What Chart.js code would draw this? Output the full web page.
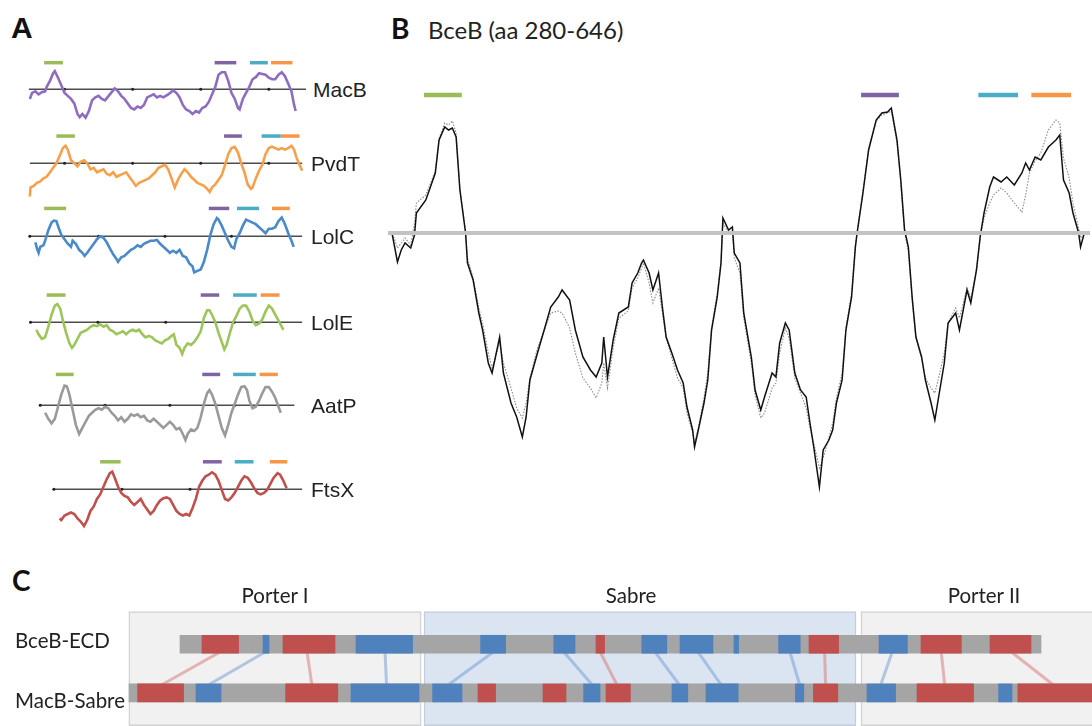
<!DOCTYPE html>
<html>
<head>
<meta charset="utf-8">
<script src="https://cdn.jsdelivr.net/npm/chart.js@4.4.1/dist/chart.umd.min.js"></script>
<style>
  html, body { margin: 0; padding: 0; background: #ffffff; }
  body { width: 1092px; height: 726px; position: relative; overflow: hidden; }
  canvas { position: absolute; }
  .t { position: absolute; white-space: nowrap; line-height: 1; color: #111; }
  .letterA { font-family: "Liberation Sans", Arial, sans-serif; font-weight: bold; font-size: 30px; }
  .letter { font-family: Lato, "Open Sans", sans-serif; font-weight: bold; font-size: 28px; }
  .title { font-family: Lato, "Open Sans", sans-serif; font-size: 24px; color: #222; }
  .plbl { font-family: "Liberation Sans", Arial, sans-serif; font-size: 21px; color: #222; }
  .clbl { font-family: Lato, "Open Sans", sans-serif; font-size: 20.5px; color: #222; }
</style>
</head>
<body>
<div class="t letterA" style="left:11px;top:13px;">A</div>
<div class="t letter" style="left:391px;top:14px;">B</div>
<div class="t title" style="left:428px;top:18px;">BceB (aa 280-646)</div>
<div class="t letter" style="left:12px;top:566px;">C</div>

<script>
// ---------------- DATA ----------------
// Panel A: hydropathy profiles [position, value]
const macbProfile = [[6,-1.07],[8.3,-0.4],[11.7,-0.23],[15,-0.57],[18.3,-0.33],[21.7,-0.23],[23.3,0.27],[26.7,0.93],[30,1.77],[31.7,2.0],[35,1.27],[38.3,0.43],[41.7,-0.4],[45,-0.73],[48.3,-1.07],[51.7,-1.57],[55,-2.73],[57.3,-3.07],[60,-2.73],[63.3,-3.13],[66.7,-2.4],[70,-1.23],[73.3,-0.9],[76.7,-0.73],[80,-1.07],[83.3,-1.23],[88.3,-0.57],[93.3,0.1],[96.7,-0.23],[100,-0.73],[103.3,-1.07],[106.7,-1.57],[110,-2.07],[113.3,-2.23],[116.7,-1.9],[120,-2.07],[123.3,-1.73],[126.7,-0.9],[130,-0.73],[133.3,-0.57],[136.7,-0.9],[140,-0.73],[143.3,-0.9],[148.3,-0.57],[153.3,-0.13],[156.7,-0.4],[160,-0.9],[163.3,-1.73],[166.7,-2.23],[170,-2.4],[173.3,-2.73],[176.7,-2.4],[180,-2.57],[183.3,-2.07],[186.7,-1.9],[190,-1.4],[193.3,-0.57],[196.7,0.27],[200,1.6],[203.3,1.87],[206.7,1.87],[210,0.93],[213.3,-0.4],[216.7,-1.07],[220,-2.07],[221.7,-2.23],[225,-1.07],[228.3,-0.4],[231.7,0.27],[235,1.1],[238.3,1.33],[241.7,1.77],[245,1.67],[248.3,1.6],[251.7,1.27],[255,1.1],[258.3,1.1],[261.7,1.6],[265,1.87],[268.3,1.43],[271.7,0.6],[275,-0.23],[277.7,-1.73],[279.3,-2.4]];
const pvdtProfile = [[6,-3.67],[6.7,-2.67],[10,-2.5],[13.3,-2.17],[16.7,-2.0],[20,-1.67],[23.3,-1.5],[26.7,-1.0],[30,-0.5],[33.3,0],[36.7,0.83],[40,1.67],[42.7,1.93],[45,1.5],[48.3,0.33],[51.7,0],[55,-0.33],[58.3,0.17],[61.7,0.33],[65,0],[68.3,-0.67],[71.7,-0.5],[75,-1.0],[78.3,-0.83],[81.7,-0.67],[85,-1.17],[88.3,-1.33],[91.7,-1.0],[95,-1.5],[98.3,-1.33],[101.7,-1.17],[105,-1.0],[108.3,-1.5],[111.7,-2.0],[115,-2.5],[118.3,-2.17],[121.7,-2.0],[125,-1.83],[128.3,-1.67],[131.7,-1.33],[135,-1.0],[138.3,-0.5],[141.7,-0.33],[145,-0.17],[148.3,-0.67],[151.7,-1.67],[155,-2.67],[158.3,-1.83],[161.7,-1.17],[165,-0.67],[168.3,-1.0],[171.7,-1.5],[175,-1.83],[178.3,-2.17],[181.7,-2.33],[185,-2.5],[188.3,-2.83],[191,-3.17],[193.3,-2.67],[196.7,-2.33],[200,-1.83],[203.3,-1.33],[206.7,-0.17],[210,1.0],[213.3,1.67],[216.7,1.8],[220,1.17],[223.3,0],[226.7,-1.0],[230,-2.33],[233.3,-2.83],[235,-2.67],[238.3,-1.67],[241.7,-0.83],[245,-0.17],[248.3,1.0],[251.7,1.67],[255,1.83],[258.3,1.67],[261.7,1.5],[265,1.67],[268.3,1.5],[271.7,1.67],[275,1.93],[277.7,1.5],[280,0.67],[283.3,-0.17],[286,-0.83]];
const lolcProfile = [[11.7,-0.67],[13.3,-1.33],[15,-1.83],[16.7,-1.17],[20,-1.0],[21.7,-0.5],[25,0.67],[28.3,1.5],[30.7,1.73],[33.3,1.67],[36,0.83],[38.3,0.17],[41.7,-0.33],[45,-0.83],[48.3,-1.17],[50,-0.5],[53.3,-0.83],[56.7,-1.5],[60,-1.83],[62.3,-2.17],[65,-1.83],[68.3,-1.33],[71.7,-0.83],[75,-0.33],[78.3,0],[81.7,-0.17],[85,-0.67],[88.3,-1.33],[91.7,-2.0],[95,-2.5],[96.7,-2.83],[100,-2.33],[103.3,-2.17],[106.7,-1.83],[110,-1.5],[113.3,-1.33],[116.7,-1.0],[120,-1.17],[123.3,-0.83],[126.7,-0.67],[130,-0.5],[133.3,-0.5],[136.7,-0.4],[140,-0.83],[143.3,-1.17],[146.7,-1.5],[150,-1.83],[153.3,-1.6],[156.7,-1.83],[160,-1.5],[163.3,-2.17],[166.7,-2.33],[170,-3.0],[173.3,-3.33],[175,-4.0],[178.3,-3.83],[181.7,-3.67],[185,-2.83],[188.3,-1.5],[191.7,0.17],[195,1.33],[198.3,2.0],[200,1.83],[203.3,1.17],[206.7,0.33],[210,-0.5],[213.3,-1.17],[216,-1.33],[218.3,-0.33],[221.7,0.33],[225,1.17],[228.3,1.83],[231.7,1.67],[235,1.5],[238.3,1.33],[241.7,1.0],[245,0.67],[248.3,0.33],[251.7,0.83],[255,0.83],[258.3,1.0],[261.7,1.67],[265,2.07],[268.3,1.33],[271.7,0.33],[275,-0.5],[277.3,-1.17]];
const loleProfile = [[12.7,-0.83],[15,-1.33],[18.3,-1.83],[21.7,-1.67],[25,-0.5],[28.3,0.83],[31.7,1.83],[34.3,2.0],[37.3,1.5],[40,0.17],[43.3,-1.17],[46.7,-2.33],[49.3,-2.83],[51.7,-2.5],[55,-1.83],[58.3,-1.17],[61.7,-1.0],[65,-0.83],[68.3,-0.5],[71.7,-0.33],[75,-0.43],[78.3,-0.23],[81.7,-0.5],[85,-0.33],[88.3,-0.83],[91.7,-1.0],[95,-1.33],[98.3,-1.17],[101.7,-1.0],[105,-1.33],[108.3,-1.0],[111.7,-0.83],[115,-1.0],[118.3,-0.83],[121.7,-1.33],[125,-1.67],[128.3,-1.5],[131.7,-1.67],[135,-2.0],[138.3,-2.17],[141.7,-2.33],[145,-2.0],[148.3,-1.83],[151.7,-1.5],[154,-1.33],[156.7,-2.5],[160,-2.83],[162.7,-3.5],[165,-2.83],[168.3,-2.33],[171.7,-2.5],[175,-2.17],[178.3,-1.67],[181.7,-1.0],[185,0.5],[188.3,1.33],[190.7,1.33],[193.3,0.83],[196.7,0],[200,-1.17],[203.3,-2.17],[206,-3.0],[208.3,-2.5],[211.7,-1.17],[215,0],[218.3,0.67],[221.7,1.5],[225,1.83],[228.3,1.83],[231.7,1.17],[235,0.17],[238.3,-0.33],[241.7,-0.17],[245,0.33],[248.3,1.17],[251.7,1.83],[255,1.5],[258.3,0.83],[261.7,0.17],[265,-0.5],[266.7,-0.83]];
const aatpProfile = [[21.7,-0.83],[25,-1.5],[28.3,-2.0],[31.7,-1.5],[35,-0.17],[38.3,1.17],[41.7,2.17],[44,2.1],[46.7,1.17],[50,-0.5],[53.3,-2.17],[56.7,-3.17],[60,-2.5],[63.3,-1.83],[66.7,-1.17],[70,-0.83],[73.3,-0.5],[76.7,-0.33],[80,-0.5],[83.3,-0.17],[86.7,-0.33],[90,-0.83],[93.3,-1.17],[96.7,-1.67],[100,-1.33],[103.3,-1.83],[106.7,-1.5],[110,-1.0],[113.3,-1.17],[116.7,-1.0],[120,-1.33],[123.3,-1.17],[126.7,-1.67],[130,-1.83],[133.3,-1.5],[136.7,-1.83],[140,-2.17],[143.3,-2.5],[146.7,-2.17],[150,-1.83],[153.3,-2.17],[156.7,-2.67],[160,-2.5],[163.3,-3.17],[166,-3.83],[168.3,-3.17],[171.7,-2.67],[175,-2.83],[178.3,-2.5],[181.7,-1.33],[185,0.17],[188.3,1.33],[190.7,1.67],[193.3,1.17],[196.7,0.17],[200,-1.17],[203.3,-2.5],[206.7,-3.33],[210,-2.17],[213.3,-0.83],[216.7,0.17],[220,1.17],[223.3,2.0],[226.7,2.1],[229.3,1.67],[231.7,0.5],[235,-0.33],[238.3,-0.17],[241.7,0.5],[245,1.33],[248.3,2.0],[251.7,2.0],[255,1.5],[258.3,0.83],[261.7,-0.17],[264,-0.83]];
const ftsxProfile = [[36.7,-3.23],[38.3,-3.4],[41.7,-2.9],[45,-2.73],[48.3,-2.57],[51.7,-2.73],[55,-3.23],[58.3,-3.57],[61.7,-4.07],[65,-3.4],[68.3,-2.4],[71.7,-1.9],[75,-1.07],[78.3,-0.57],[81.7,0.27],[85,1.1],[88.3,1.77],[90.7,1.93],[93.3,1.27],[96.7,0.27],[100,-0.4],[103.3,-0.73],[106.7,-0.9],[110,-1.4],[113.3,-1.73],[116.7,-1.4],[120,-1.07],[123.3,-1.73],[126.7,-2.23],[130,-2.73],[133.3,-2.4],[136.7,-1.73],[140,-1.23],[143.3,-1.0],[146.7,-0.9],[150,-1.07],[153.3,-1.73],[156.7,-2.4],[160,-2.73],[163.3,-2.9],[166.7,-2.73],[170,-2.9],[173.3,-2.07],[176.7,-1.07],[180,0.27],[183.3,0.93],[186.7,1.43],[190,1.6],[193.3,1.87],[196.7,1.6],[200,0.93],[203.3,-0.07],[206.7,-1.07],[210,-1.23],[213.3,-0.9],[216.7,-0.4],[220,0.27],[223.3,0.93],[226.7,1.43],[230,1.27],[233.3,0.77],[236.7,0.1],[240,-0.4],[243.3,-0.57],[246.7,-0.4],[250,-0.07],[253.3,0.6],[256.7,1.27],[260.7,1.77],[263.3,1.6],[266.7,0.93],[270,0.1]];

// Panel A: conserved motif spans (green, purple, cyan, orange) and axis ticks
const macbMotifs = [[20.7,40],[196,218.3],[232.3,250.7],[254,276]];
const pvdtMotifs = [[33.3,52.3],[205.7,224],[244.3,264],[264,283.3]];
const lolcMotifs = [[20.7,43.3],[190,211],[219,241.7],[255,273.3]];
const loleMotifs = [[23.3,42.7],[181.7,200.7],[215,239.3],[243.3,262.7]];
const aatpMotifs = [[32.7,51],[183.3,201.7],[215,238.3],[242.3,261]];
const ftsxMotifs = [[78.3,99.3],[184,203.3],[216.7,236],[252.7,270.7]];
const macbTicks = [41.7,111.7,181.7,251.7];
const pvdtTicks = [41.7,111.7,181.7,251.7];
const lolcTicks = [6,76.7,145,213.3];
const loleTicks = [6.7,76,145.7,216];
const aatpTicks = [16.7,83.3,150,216.7];
const ftsxTicks = [30.7,100.7,170.7];
const proteinNames = ['MacB','PvdT','LolC','LolE','AatP','FtsX'];

// Panel B: BceB residues 280-646, [residue, hydropathy]
const bcebSolid = [[280,0.01],[283,-0.29],[285,-0.17],[287,-0.10],[290,-0.15],[292,-0.02],[293,0.20],[298,0.33],[303,0.60],[305,0.93],[308,1.06],[310,1.03],[312,1.05],[314,0.96],[316,0.43],[319,0.00],[320,-0.30],[323,-0.47],[326,-0.80],[328,-0.97],[331,-1.30],[333,-1.40],[337,-1.04],[339,-1.40],[343,-1.70],[346,-1.84],[349,-2.04],[351,-1.84],[353,-1.47],[357,-1.20],[361,-0.94],[364,-0.74],[368,-0.64],[370,-0.57],[374,-0.67],[377,-0.97],[381,-1.24],[385,-1.37],[388,-1.44],[391,-1.30],[392,-1.04],[394,-1.44],[397,-1.07],[400,-0.80],[405,-0.74],[407,-0.50],[410,-0.40],[412,-0.30],[413,-0.27],[416,-0.40],[418,-0.57],[421,-0.40],[423,-0.74],[425,-1.04],[428,-1.20],[431,-1.37],[434,-1.50],[436,-1.74],[439,-1.97],[440,-2.14],[442,-1.97],[445,-1.70],[447,-1.47],[449,-0.97],[452,-0.64],[454,-0.30],[455,0.15],[458,0.03],[460,0.06],[461,-0.20],[464,-0.30],[466,-0.80],[470,-1.24],[472,-1.57],[475,-1.77],[477,-1.64],[481,-1.40],[483,-1.44],[485,-1.10],[488,-0.90],[490,-0.97],[493,-1.40],[496,-1.57],[499,-1.64],[501,-1.90],[503,-2.14],[506,-2.54],[508,-2.17],[511,-2.07],[513,-1.97],[515,-1.70],[518,-1.47],[520,-0.97],[523,-0.64],[525,-0.14],[526,0.01],[529,0.40],[532,0.83],[536,1.13],[539,1.20],[542,1.21],[544,1.25],[547,0.93],[549,0.53],[551,0.03],[553,-0.14],[555,-0.64],[557,-1.04],[560,-1.24],[562,-1.47],[565,-1.70],[567,-1.87],[569,-1.64],[572,-1.30],[574,-0.90],[578,-0.80],[580,-0.97],[584,-0.57],[586,-0.70],[589,-0.37],[591,-0.03],[593,0.20],[596,0.46],[598,0.56],[602,0.51],[605,0.56],[609,0.48],[613,0.60],[615,0.70],[617,0.63],[620,0.76],[623,0.73],[627,0.86],[631,0.93],[633,0.98],[635,0.53],[638,0.40],[640,0.20],[643,0.00],[644,-0.14],[646,0.00]];
const bcebDotted = [[280,0.02],[283,-0.15],[285,-0.10],[287,-0.05],[290,-0.12],[292,0.10],[293,0.30],[298,0.38],[303,0.62],[305,0.95],[308,1.10],[310,1.08],[312,1.12],[314,1.00],[316,0.45],[319,0.02],[320,-0.25],[323,-0.45],[326,-0.75],[328,-0.90],[331,-1.20],[333,-1.35],[337,-1.10],[339,-1.30],[343,-1.55],[346,-1.75],[349,-1.85],[351,-1.70],[353,-1.45],[357,-1.15],[361,-0.95],[364,-0.80],[368,-0.78],[370,-0.80],[374,-0.95],[377,-1.20],[381,-1.45],[385,-1.55],[388,-1.65],[391,-1.50],[392,-1.30],[394,-1.55],[397,-1.15],[400,-0.85],[405,-0.78],[407,-0.55],[410,-0.45],[412,-0.35],[413,-0.30],[416,-0.50],[418,-0.70],[421,-0.55],[423,-0.80],[425,-1.05],[428,-1.25],[431,-1.45],[434,-1.55],[436,-1.80],[439,-2.00],[440,-2.10],[442,-1.95],[445,-1.65],[447,-1.40],[449,-0.95],[452,-0.60],[454,-0.28],[455,0.10],[458,0.00],[460,0.02],[461,-0.25],[464,-0.40],[466,-0.85],[470,-1.30],[472,-1.62],[475,-1.85],[477,-1.80],[481,-1.55],[483,-1.50],[485,-1.20],[488,-0.95],[490,-1.05],[493,-1.45],[496,-1.60],[499,-1.75],[501,-1.95],[503,-2.10],[506,-2.35],[508,-2.25],[511,-2.05],[513,-1.90],[515,-1.65],[518,-1.40],[520,-0.95],[523,-0.60],[525,-0.12],[526,0.03],[529,0.42],[532,0.85],[536,1.12],[539,1.18],[542,1.20],[544,1.22],[547,0.90],[549,0.50],[551,0.00],[553,-0.18],[555,-0.68],[557,-1.05],[560,-1.25],[562,-1.45],[565,-1.55],[567,-1.60],[569,-1.45],[572,-1.20],[574,-0.90],[578,-0.75],[580,-0.85],[584,-0.55],[586,-0.65],[589,-0.38],[591,-0.05],[593,0.15],[596,0.30],[598,0.38],[602,0.45],[605,0.40],[609,0.30],[613,0.21],[615,0.38],[617,0.60],[620,0.72],[623,0.80],[627,1.03],[631,1.13],[633,1.10],[635,0.75],[638,0.55],[640,0.30],[643,0.05],[644,-0.05],[646,0.00]];
const bcebMotifs = [[297,317],[528,548],[590,611],[618,639]];
const bcebMotifLevel = 1.38;

// Panel C: secondary structure maps (positions)
const rowLabels = ['BceB-ECD','MacB-Sabre'];
const domainNames = ['Porter I','Sabre','Porter II'];
const domainRanges = [[0.4,146.6],[148,364],[366.5,490]];
const bcebSpan = [26,456.5];
const macbSpan = [0.5,490];
const bcebHelices = [[37,55.3],[77.5,103.5],[234,238.3],[340.5,355.3],[396.5,416.7],[431,451.5]];
const bcebStrands = [[67.5,70.5],[114,142.3],[176.3,188.8],[212.9,223.5],[256.9,269.4],[276,292.5],[303,305.3],[325.3,336.1],[375.5,389.7]];
const macbHelices = [[4.8,27.8],[78.8,104.9],[175,183.8],[207.5,219],[239,251.2],[342.7,354.9],[394.5,422.8],[444.9,490]];
const macbStrands = [[34,46.5],[111.5,145.5],[152.3,167],[227.8,236],[272,279.9],[289,305.1],[333.7,337.9],[369.5,383.8],[435.3,442]];
const helixLinks = [[46.5,16],[89.5,92],[236,244.7],[348.3,348.8],[406.6,408.4],[441.4,463.2]];
const strandLinks = [[69,39.5],[128.5,129.3],[183,159.5],[217.7,232.5],[263.3,276],[284.8,296.9],[330.9,336],[382.2,376.2]];

// ---------------- STYLE ----------------
const motifColors = ['#9bbb59','#8064a2','#4bacc6','#f79646'];
const baseOpts = {
  responsive: false, animation: false, devicePixelRatio: 1, events: [],
  plugins: { legend: { display: false }, tooltip: { enabled: false }, title: { display: false } }
};

function addCanvas(left, top, w, h) {
  const c = document.createElement('canvas');
  c.width = w; c.height = h;
  c.style.left = left + 'px'; c.style.top = top + 'px';
  c.style.width = w + 'px'; c.style.height = h + 'px';
  document.body.appendChild(c);
  return c;
}
function addText(cls, txt, left, top, center) {
  const d = document.createElement('div');
  d.className = 't ' + cls;
  d.textContent = txt;
  d.style.left = left + 'px'; d.style.top = top + 'px';
  if (center) d.style.transform = 'translateX(-50%)';
  document.body.appendChild(d);
}
const pts = arr => arr.map(p => ({ x: p[0], y: p[1] }));

// ---------------- PANEL A ----------------
const panelA = [
  { prof: macbProfile, motifs: macbMotifs, ticks: macbTicks, color: '#8e6dc0', baseY: 89,  base: [5,290], level: 2.93 },
  { prof: pvdtProfile, motifs: pvdtMotifs, ticks: pvdtTicks, color: '#f7a04b', baseY: 163, base: [6,286], level: 3.0 },
  { prof: lolcProfile, motifs: lolcMotifs, ticks: lolcTicks, color: '#4a89cb', baseY: 236, base: [5,286], level: 3.07 },
  { prof: loleProfile, motifs: loleMotifs, ticks: loleTicks, color: '#9cc55a', baseY: 322, base: [6,286], level: 3.0 },
  { prof: aatpProfile, motifs: aatpMotifs, ticks: aatpTicks, color: '#9a9a9a', baseY: 405, base: [16,278], level: 3.4 },
  { prof: ftsxProfile, motifs: ftsxMotifs, ticks: ftsxTicks, color: '#c0504d', baseY: 489, base: [30,286], level: 3.03 }
];
panelA.forEach((p, i) => {
  const cv = addCanvas(20, p.baseY - 40, 292, 85);
  const ds = [
    { data: pts(p.prof), borderColor: p.color, borderWidth: 2.6, pointRadius: 0, tension: 0, order: 1 },
    { data: [{ x: p.base[0], y: 0 }, { x: p.base[1], y: 0 }], borderColor: '#4d4d4d', borderWidth: 1.3, pointRadius: 0, order: 3 },
    { data: p.ticks.map(t => ({ x: t, y: 0 })), showLine: false, pointRadius: 1.5, pointBackgroundColor: '#222', pointBorderWidth: 0, order: 2 }
  ];
  p.motifs.forEach((m, k) => ds.push({
    data: [{ x: m[0], y: p.level }, { x: m[1], y: p.level }],
    borderColor: motifColors[k], borderWidth: 3.5, borderCapStyle: 'butt', pointRadius: 0, order: 1
  }));
  new Chart(cv, {
    type: 'line',
    data: { datasets: ds },
    options: Object.assign({}, baseOpts, {
      layout: { padding: 0 },
      scales: {
        x: { type: 'linear', display: false, min: 0, max: 292 },
        y: { type: 'linear', display: false, min: -4.5, max: 4 }
      }
    })
  });
  addText('plbl', proteinNames[i], i === 0 ? 313 : 311, p.baseY + 7.4 - 17.8);
});

// ---------------- PANEL B ----------------
(function () {
  const cv = addCanvas(380, 80, 712, 430);
  const ds = [
    { data: [{ x: 278, y: 0 }, { x: 649, y: 0 }], borderColor: '#c3c3c3', borderWidth: 4, pointRadius: 0, order: 0 },
    { data: pts(bcebSolid), borderColor: '#111111', borderWidth: 1.5, pointRadius: 0, tension: 0, order: 1 },
    { data: pts(bcebDotted), borderColor: '#8a8a8a', borderWidth: 1.1, borderDash: [1.5, 1.5], pointRadius: 0, tension: 0, order: 2 }
  ];
  bcebMotifs.forEach((m, k) => ds.push({
    data: [{ x: m[0], y: bcebMotifLevel }, { x: m[1], y: bcebMotifLevel }],
    borderColor: motifColors[k], borderWidth: 4.5, borderCapStyle: 'butt', pointRadius: 0, order: 1
  }));
  new Chart(cv, {
    type: 'line',
    data: { datasets: ds },
    options: Object.assign({}, baseOpts, {
      layout: { padding: { left: 8, right: 2, top: 5, bottom: 5 } },
      scales: {
        x: { type: 'linear', display: false, min: 278, max: 649 },
        y: { type: 'linear', display: false, min: -2.72, max: 1.48 }
      }
    })
  });
})();

// ---------------- PANEL C ----------------
(function () {
  const cv = addCanvas(0, 560, 1092, 166);
  const rowTop = 1, rowBottom = 0;          // BceB-ECD row, MacB-Sabre row
  const linkTop = 0.852, linkBottom = 0.148; // bar edges
  const ds = [];
  const segBars = (arr, row, color) => ({
    type: 'bar', data: arr.map(s => ({ x: [s[0], s[1]], y: row })),
    backgroundColor: color, borderWidth: 0, barThickness: 18, grouped: false, order: 1
  });
  ds.push(segBars(bcebHelices, rowTop, '#c0504d'));
  ds.push(segBars(bcebStrands, rowTop, '#4f81bd'));
  ds.push(segBars(macbHelices, rowBottom, '#c0504d'));
  ds.push(segBars(macbStrands, rowBottom, '#4f81bd'));
  ds.push({ type: 'bar', data: [{ x: bcebSpan, y: rowTop }, { x: macbSpan, y: rowBottom }],
    backgroundColor: '#a5a5a5', borderWidth: 0, barThickness: 18, grouped: false, order: 2 });
  helixLinks.forEach(l => ds.push({ type: 'line', data: [{ x: l[0], y: linkTop }, { x: l[1], y: linkBottom }],
    borderColor: 'rgba(214,128,126,0.55)', borderWidth: 3, pointRadius: 0, order: 3 }));
  strandLinks.forEach(l => ds.push({ type: 'line', data: [{ x: l[0], y: linkTop }, { x: l[1], y: linkBottom }],
    borderColor: 'rgba(120,160,214,0.55)', borderWidth: 3, pointRadius: 0, order: 3 }));
  ds.push({ type: 'bar', data: domainRanges.map(r => ({ x: r, y: 0.5 })),
    backgroundColor: ['#f1f1f1', '#dbe5f1', '#f1f1f1'],
    borderColor: ['#d2d2d2', '#c3cddb', '#d2d2d2'], borderWidth: 1.5, borderSkipped: false,
    barThickness: 114, grouped: false, order: 4 });
  new Chart(cv, {
    type: 'bar',
    data: { datasets: ds },
    options: Object.assign({}, baseOpts, {
      indexAxis: 'y',
      layout: { padding: { left: 128, right: 0, top: 40, bottom: 0 } },
      scales: {
        x: { type: 'linear', display: false, min: 0, max: 482 },
        y: { type: 'linear', display: false, min: -0.42, max: 1.65 }
      }
    })
  });
  const titleX = [275, 631, 984];
  domainNames.forEach((n, i) => addText('clbl', n, titleX[i], 585, true));
  addText('clbl', rowLabels[0], 15, 630);
  addText('clbl', rowLabels[1], 15, 690);
})();
</script>
</body>
</html>
